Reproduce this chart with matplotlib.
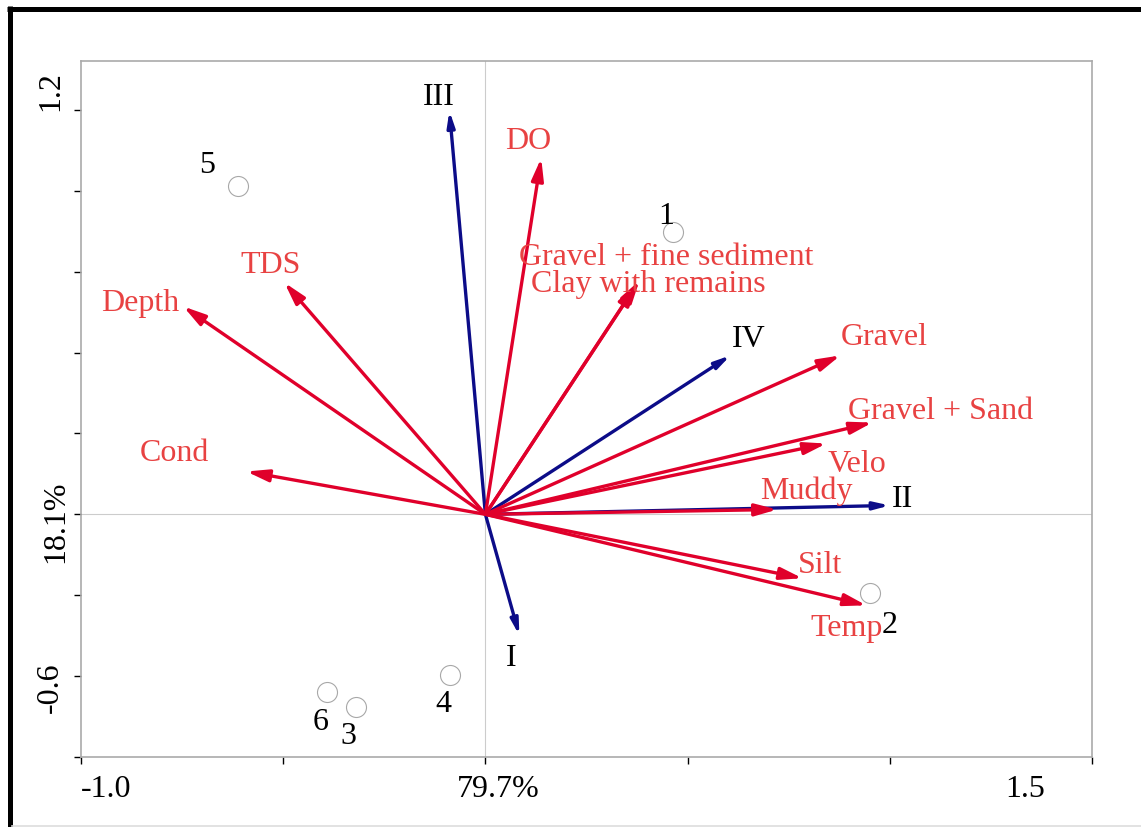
import matplotlib
matplotlib.use("Agg")
import matplotlib.pyplot as plt
from matplotlib.lines import Line2D

plt.rcParams['font.family'] = ['Liberation Serif', 'DejaVu Serif']

# environmental variables (biplot scores)
env_names = ["DO", "Gravel + fine sediment", "Clay with remains", "TDS", "Depth", "Cond",
             "Gravel", "Gravel + Sand", "Velo", "Muddy", "Silt", "Temp"]
env_x = [0.138, 0.375, 0.381, -0.497, -0.747, -0.591, 0.878, 0.957, 0.843, 0.722, 0.784, 0.942]
env_y = [0.881, 0.570, 0.578, 0.573, 0.514, 0.106, 0.393, 0.227, 0.175, 0.012, -0.158, -0.225]

# supplementary variables (blue arrows)
sup_names = ["III", "I", "IV", "II"]
sup_x = [-0.089, 0.084, 0.606, 1.000]
sup_y = [0.998, -0.299, 0.393, 0.022]

# sites
site_names = ["1", "2", "3", "4", "5", "6"]
site_x = [0.465, 0.952, -0.321, -0.087, -0.613, -0.391]
site_y = [0.699, -0.195, -0.477, -0.398, 0.812, -0.440]

# label positions
env_lab = [(0.106, 0.925), (0.448, 0.637), (0.403, 0.572), (-0.532, 0.617), (-0.853, 0.525),
           (-0.769, 0.153), (0.987, 0.439), (1.125, 0.256), (0.920, 0.125), (0.794, 0.059),
           (0.828, -0.124), (0.894, -0.280)]
sup_lab = [(-0.116, 1.034), (0.064, -0.354), (0.650, 0.434), (1.031, 0.039)]
site_lab = [(0.448, 0.740), (1.000, -0.272), (-0.339, -0.546), (-0.104, -0.467),
            (-0.687, 0.866), (-0.408, -0.512)]

red = "#e0002b"
red_txt = "#e84242"
blue = "#0c0c88"
fs = 23

fig = plt.figure(figsize=(11.41, 8.28), dpi=100)
ax = fig.add_axes([81 / 1141, 1 - 758 / 828, 1011 / 1141, 696 / 828])
ax.set_xlim(-1.0, 1.5)
ax.set_ylim(-0.6, 1.121)

ax.axhline(0, color="#cccccc", lw=0.8, zorder=0)
ax.axvline(0, color="#cccccc", lw=0.8, zorder=0)

for x, y in zip(env_x, env_y):
    ax.annotate("", xy=(x, y), xytext=(0, 0),
                arrowprops=dict(arrowstyle="-|>,head_length=1.1,head_width=0.3",
                                mutation_scale=12, lw=2.4, color=red,
                                shrinkA=0, shrinkB=0), zorder=3)
for x, y in zip(sup_x, sup_y):
    ax.annotate("", xy=(x, y), xytext=(0, 0),
                arrowprops=dict(arrowstyle="-|>,head_length=0.9,head_width=0.22",
                                mutation_scale=10, lw=2.4, color=blue,
                                shrinkA=0, shrinkB=0), zorder=2)

ax.plot(site_x, site_y, "o", ms=14.4, mfc="none", mec="#a8a8a8", mew=0.8, zorder=4)

for name, (tx, ty) in zip(env_names, env_lab):
    ax.text(tx, ty, name, color=red_txt, fontsize=fs, ha="center", va="center", zorder=5)
for name, (tx, ty) in zip(sup_names, sup_lab):
    ax.text(tx, ty, name, color="black", fontsize=fs, ha="center", va="center", zorder=5)
for name, (tx, ty) in zip(site_names, site_lab):
    ax.text(tx, ty, name, color="black", fontsize=fs, ha="center", va="center", zorder=5)

# axes frame and ticks
for s in ax.spines.values():
    s.set_color("#aaaaaa")
    s.set_linewidth(1.2)
ax.set_xticks([-1.0, -0.5, 0.0, 0.5, 1.0, 1.5])
ax.set_yticks([-0.6, -0.4, -0.2, 0.0, 0.2, 0.4, 0.6, 0.8, 1.0])
ax.tick_params(direction="out", length=5, width=1.0, color="black",
               labelbottom=False, labelleft=False)

# axis extent and eigenvalue labels
ax.text(-0.937, -0.677, "-1.0", fontsize=fs, ha="center", va="center", clip_on=False)
ax.text(0.032, -0.677, "79.7%", fontsize=fs, ha="center", va="center", clip_on=False)
ax.text(1.335, -0.677, "1.5", fontsize=fs, ha="center", va="center", clip_on=False)
ax.text(-1.076, 1.049, "1.2", fontsize=fs, ha="center", va="center", rotation=90, clip_on=False)
ax.text(-1.063, -0.015, "18.1%", fontsize=fs, ha="center", va="center", rotation=90, clip_on=False)
ax.text(-1.076, -0.425, "-0.6", fontsize=fs, ha="center", va="center", rotation=90, clip_on=False)

# outer frame
W, H = 1141, 828
fig.add_artist(Line2D([9.5 / W, 9.5 / W], [0, 1 - 7 / H], color="black", lw=3.6,
                      solid_capstyle="butt"))
fig.add_artist(Line2D([7 / W, 1], [1 - 9.5 / H, 1 - 9.5 / H], color="black", lw=3.6,
                      solid_capstyle="butt"))
fig.add_artist(Line2D([12 / W, 1], [1.5 / H, 1.5 / H], color="#dddddd", lw=1.2))

fig.savefig("out.png", dpi=100)
